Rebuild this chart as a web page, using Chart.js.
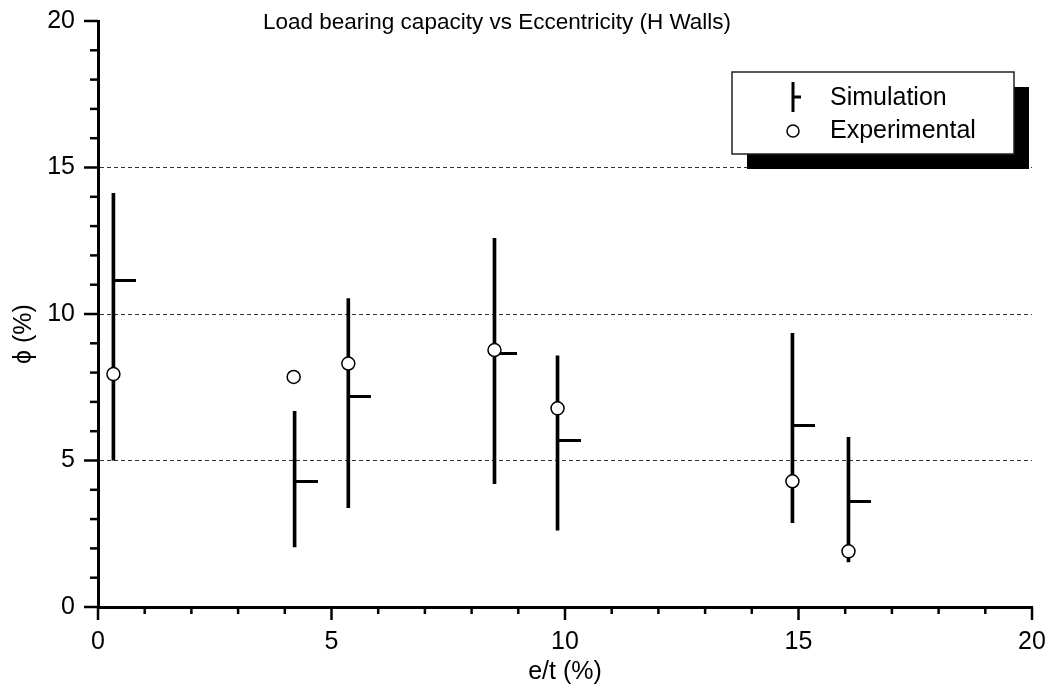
<!DOCTYPE html>
<html>
<head>
<meta charset="utf-8">
<script src="https://cdn.jsdelivr.net/npm/chart.js@4.4.0/dist/chart.umd.min.js"></script>
<style>
  html, body { margin: 0; padding: 0; background: #fff; }
  #wrap { width: 1048px; height: 689px; }
</style>
</head>
<body>
<div id="wrap"><canvas id="chart" width="1048" height="689"></canvas></div>
<script>
// values
const simX = [0.33, 4.21, 5.36, 8.49, 9.84, 14.87, 16.07];
const simHigh = [14.12, 6.68, 10.53, 12.58, 8.57, 9.34, 5.79];
const simLow = [5.01, 2.05, 3.39, 4.21, 2.62, 2.88, 1.54];
const simMean = [11.13, 4.27, 7.17, 8.65, 5.69, 6.21, 3.61];
const expX = [0.33, 4.19, 5.36, 8.49, 9.84, 14.87, 16.07];
const expY = [7.95, 7.85, 8.31, 8.77, 6.78, 4.29, 1.90];
const xTicks = [0, 5, 10, 15, 20];
const yTicks = [0, 5, 10, 15, 20];

const FONT = "'Liberation Sans', Arial, sans-serif";

// marker for the mean: a short line going right from the point
function meanTick() {
    const c = document.createElement('canvas');
    c.width = 46;
    c.height = 3;
    const g = c.getContext('2d');
    g.fillStyle = '#000';
    g.fillRect(23, 0, 23, 3);
    return c;
}

const decor = {
    id: 'decor',
    afterDraw(chart) {
        const ctx = chart.ctx;
        const xs = chart.scales.x, ys = chart.scales.y;
        const area = chart.chartArea;
        ctx.save();
        ctx.strokeStyle = '#000';
        ctx.lineWidth = 2.5;
        // tick marks, long on labelled values
        for (let v = 0; v <= 20; v++) {
            const len = xTicks.includes(v) ? 13 : 7;
            const px = xs.getPixelForValue(v);
            ctx.beginPath();
            ctx.moveTo(px, area.bottom);
            ctx.lineTo(px, area.bottom + len);
            ctx.stroke();
            const py = ys.getPixelForValue(v);
            ctx.beginPath();
            ctx.moveTo(area.left - (yTicks.includes(v) ? 14 : 8), py);
            ctx.lineTo(area.left, py);
            ctx.stroke();
        }
        // title
        ctx.fillStyle = '#000';
        ctx.font = '22.5px ' + FONT;
        ctx.textAlign = 'left';
        ctx.textBaseline = 'middle';
        ctx.fillText('Load bearing capacity vs Eccentricity (H Walls)', 263, 23);
        // y axis title
        ctx.save();
        ctx.translate(24, 334);
        ctx.rotate(-Math.PI / 2);
        ctx.textAlign = 'center';
        ctx.font = '25px ' + FONT;
        ctx.fillText('ϕ (%)', 0, 0);
        ctx.restore();
        // legend with drop shadow
        const lx = 732, ly = 72, lw = 282, lh = 82;
        ctx.fillStyle = '#000';
        ctx.fillRect(lx + 15, ly + 15, lw, lh);
        ctx.fillStyle = '#fff';
        ctx.fillRect(lx, ly, lw, lh);
        ctx.strokeStyle = '#222';
        ctx.lineWidth = 1.5;
        ctx.strokeRect(lx, ly, lw, lh);
        ctx.strokeStyle = '#000';
        ctx.lineWidth = 3;
        ctx.beginPath();
        ctx.moveTo(793, 82);
        ctx.lineTo(793, 112);
        ctx.moveTo(793, 97);
        ctx.lineTo(801, 97);
        ctx.stroke();
        ctx.lineWidth = 1.5;
        ctx.beginPath();
        ctx.arc(793, 131, 6, 0, Math.PI * 2);
        ctx.fillStyle = '#fff';
        ctx.fill();
        ctx.stroke();
        ctx.fillStyle = '#000';
        ctx.font = '25px ' + FONT;
        ctx.textAlign = 'left';
        ctx.fillText('Simulation', 830, 98);
        ctx.fillText('Experimental', 830, 131);
        ctx.restore();
    }
};

new Chart(document.getElementById('chart'), {
    type: 'bar',
    data: {
        datasets: [{
            type: 'scatter',
            label: 'Experimental',
            data: expX.map((x, i) => ({x: x, y: expY[i]})),
            pointStyle: 'circle',
            pointRadius: 6.5,
            pointBackgroundColor: '#fff',
            pointBorderColor: '#000',
            pointBorderWidth: 1.5,
        }, {
            type: 'scatter',
            label: 'Simulation mean',
            data: simX.map((x, i) => ({x: x, y: simMean[i]})),
            pointStyle: meanTick(),
        }, {
            type: 'bar',
            label: 'Simulation',
            data: simX.map((x, i) => ({x: x, y: [simLow[i], simHigh[i]]})),
            backgroundColor: '#000',
            barThickness: 3,
            grouped: false,
        }]
    },
    options: {
        responsive: false,
        animation: false,
        devicePixelRatio: 1,
        layout: {padding: {top: 21, right: 16, left: 0, bottom: 0}},
        plugins: {
            legend: {display: false},
            tooltip: {enabled: false},
        },
        scales: {
            x: {
                type: 'linear',
                min: 0,
                max: 20,
                offset: false,
                afterFit(s) {
                    s.height = 82;
                    s.paddingLeft = 0;
                    s.paddingRight = 0;
                },
                grid: {display: false, drawTicks: false},
                border: {display: true, color: '#000', width: 3},
                ticks: {
                    stepSize: 5,
                    padding: 20,
                    color: '#000',
                    font: {family: FONT, size: 25},
                },
                title: {
                    display: true,
                    text: 'e/t (%)',
                    color: '#000',
                    font: {family: FONT, size: 25},
                    padding: {top: 0, bottom: 2},
                },
            },
            y: {
                type: 'linear',
                min: 0,
                max: 20,
                afterFit(s) {
                    s.width = 98;
                    s.paddingTop = 0;
                    s.paddingBottom = 0;
                },
                grid: {
                    drawTicks: false,
                    lineWidth: 1,
                    color: c => (c.tick && c.tick.value > 0 && c.tick.value < 20) ? '#333' : 'rgba(0,0,0,0)',
                },
                border: {display: true, color: '#000', width: 3, dash: [4, 3]},
                ticks: {
                    stepSize: 5,
                    padding: 23,
                    color: '#000',
                    font: {family: FONT, size: 25},
                },
            },
        },
    },
    plugins: [decor],
});
</script>
</body>
</html>
